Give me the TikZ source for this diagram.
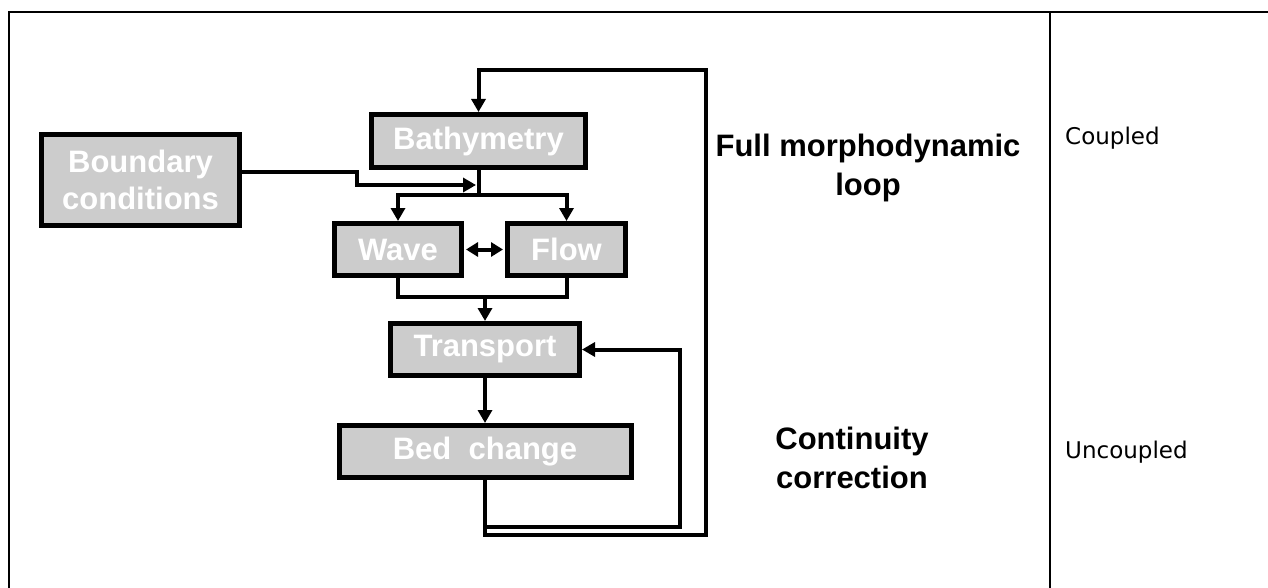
\documentclass[tikz,border=0pt]{standalone}
\usepackage{fontspec}
\setmainfont{Liberation Sans}
\newfontfamily\cellfont{DejaVu Sans}
\usetikzlibrary{arrows.meta}
\definecolor{boxgray}{RGB}{204,204,204}
\begin{document}
\begin{tikzpicture}[x=1pt,y=-1pt,
box/.style={draw=black,line width=5pt,fill=boxgray,text=white,inner sep=0pt,
  align=center,minimum height=52pt,font=\fontsize{31}{37}\selectfont\bfseries},
link/.style={line width=4pt},
arr/.style={link,-{Triangle[length=13pt,width=14pt]}},
tag/.style={align=center,font=\fontsize{31}{39}\selectfont\bfseries},
cell/.style={anchor=west,inner sep=0pt,font=\cellfont\fontsize{23}{27}\selectfont}]
\useasboundingbox (0,0) rectangle (1268,588);
% table frame
\draw[line width=2pt] (9,588) -- (9,12) -- (1268,12);
\draw[line width=2pt] (1050,12) -- (1050,588);
\node[cell] (coupled) at (1065,138) {Coupled};
\node[cell] (uncoupled) at (1065,452) {Uncoupled};

% boxes
\node[box,minimum width=198pt,minimum height=91pt] (bc) at (140.5,180) {Boundary\\conditions};
\node[box,minimum width=214pt,minimum height=53pt] (bathy) at (478.5,141) {Bathymetry};
\node[box,minimum width=127pt] (wave) at (398,249.5) {Wave};
\node[box,minimum width=118pt] (flow) at (566.5,249.5) {Flow};
\node[box,minimum width=189pt] (trans) at (485,349.5) {Transport};
\node[box,minimum width=292pt] (bed) at (485,451.5) {Bed\ \ change};

\node[tag] (full) at (868,168) {Full morphodynamic\\loop};
\node[tag] (cont) at (852,458) {Continuity\\correction};

% connectors
\coordinate (split) at (478.5,195);
\coordinate (bcin) at (476,185);
\coordinate (merge) at (485,297);
\coordinate (inner) at (485,527);
\draw[link] (bathy.south) -- (split);
\draw[arr] (split) -| (wave.north);
\draw[arr] (split) -| (flow.north);
\draw[arr] ([yshift=8pt]bc.east) -| (357,185) -- (bcin);
\draw[link,{Triangle[length=12pt,width=14pt]}-{Triangle[length=12pt,width=14pt]},
  shorten <=2pt,shorten >=2pt] (wave.east) -- (flow.west);
\draw[link] (wave.south) |- (merge) -| (flow.south);
\draw[arr] (merge) -- (trans.north);
\draw[arr] (trans.south) -- (bed.north);
\draw[arr] (bed.south) -- (485,535) -| (706,70) -| (bathy.north);
\draw[arr] (inner) -| (680,349.5) -- (trans.east);
\end{tikzpicture}
\end{document}
